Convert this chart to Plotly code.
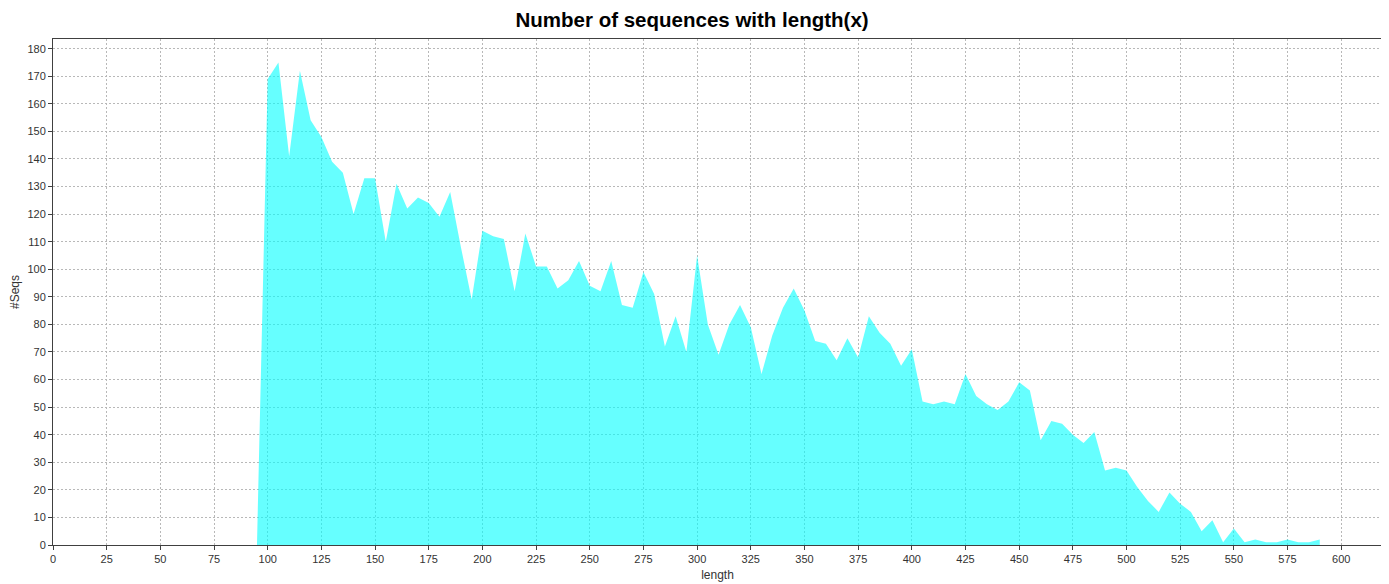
import plotly.graph_objects as go

lengths = list(range(95, 595, 5))
seq_counts = [
    0, 169, 175, 141, 172, 154, 148, 139, 135, 120,
    133, 133, 110, 131, 122, 126, 124, 119, 128, 108,
    89, 114, 112, 111, 92, 113, 101, 101, 93, 96,
    103, 94, 92, 103, 87, 86, 99, 91, 72, 83,
    70, 105, 80, 69, 80, 87, 79, 62, 76, 86,
    93, 85, 74, 73, 67, 75, 68, 83, 77, 73,
    65, 71, 52, 51, 52, 51, 62, 54, 51, 49,
    52, 59, 56, 38, 45, 44, 40, 37, 41, 27,
    28, 27, 21, 16, 12, 19, 15, 12, 5, 9,
    1, 6, 1, 2, 1, 1, 2, 1, 1, 2,
]

x_ticks = list(range(0, 625, 25))
y_ticks = list(range(0, 190, 10))

fig = go.Figure()
fig.add_trace(go.Scatter(
    x=lengths,
    y=seq_counts,
    mode='none',
    fill='tozeroy',
    fillcolor='rgba(0, 255, 255, 0.6)',
    name='#Seqs',
    showlegend=False
))

axis_style = dict(
    showgrid=True,
    gridcolor='#b8b8b8',
    griddash='2px,2px',
    gridwidth=1,
    zeroline=False,
    showline=True,
    linecolor='#404040',
    linewidth=1,
    mirror=True,
    ticks='outside',
    ticklen=4,
    tickcolor='#404040',
    automargin=False,
    tickfont=dict(family='Liberation Sans, Arial', size=11, color='#333333'),
)

fig.update_xaxes(
    range=[0, 619],
    tickvals=x_ticks,
    title=dict(text='length', font=dict(family='Liberation Sans, Arial', size=12, color='#333333'), standoff=6),
    **axis_style
)
fig.update_yaxes(
    range=[0, 183.5],
    tickvals=y_ticks,
    title=dict(text='#Seqs', font=dict(family='Liberation Sans, Arial', size=12, color='#333333'), standoff=6),
    **axis_style
)

# page body adds an 8px margin, so the margins are shifted to compensate
fig.update_layout(
    width=1389,
    height=584,
    plot_bgcolor='white',
    paper_bgcolor='white',
    margin=dict(l=45, r=15, t=31, b=47, autoexpand=False),
    title=dict(
        text='<b>Number of sequences with length(x)</b>',
        font=dict(family='Liberation Sans, Arial', size=20.5, color='black'),
        x=0.4925, xref='container', xanchor='center',
        y=0.979, yref='container', yanchor='middle'
    )
)

fig.write_html("out.html")
